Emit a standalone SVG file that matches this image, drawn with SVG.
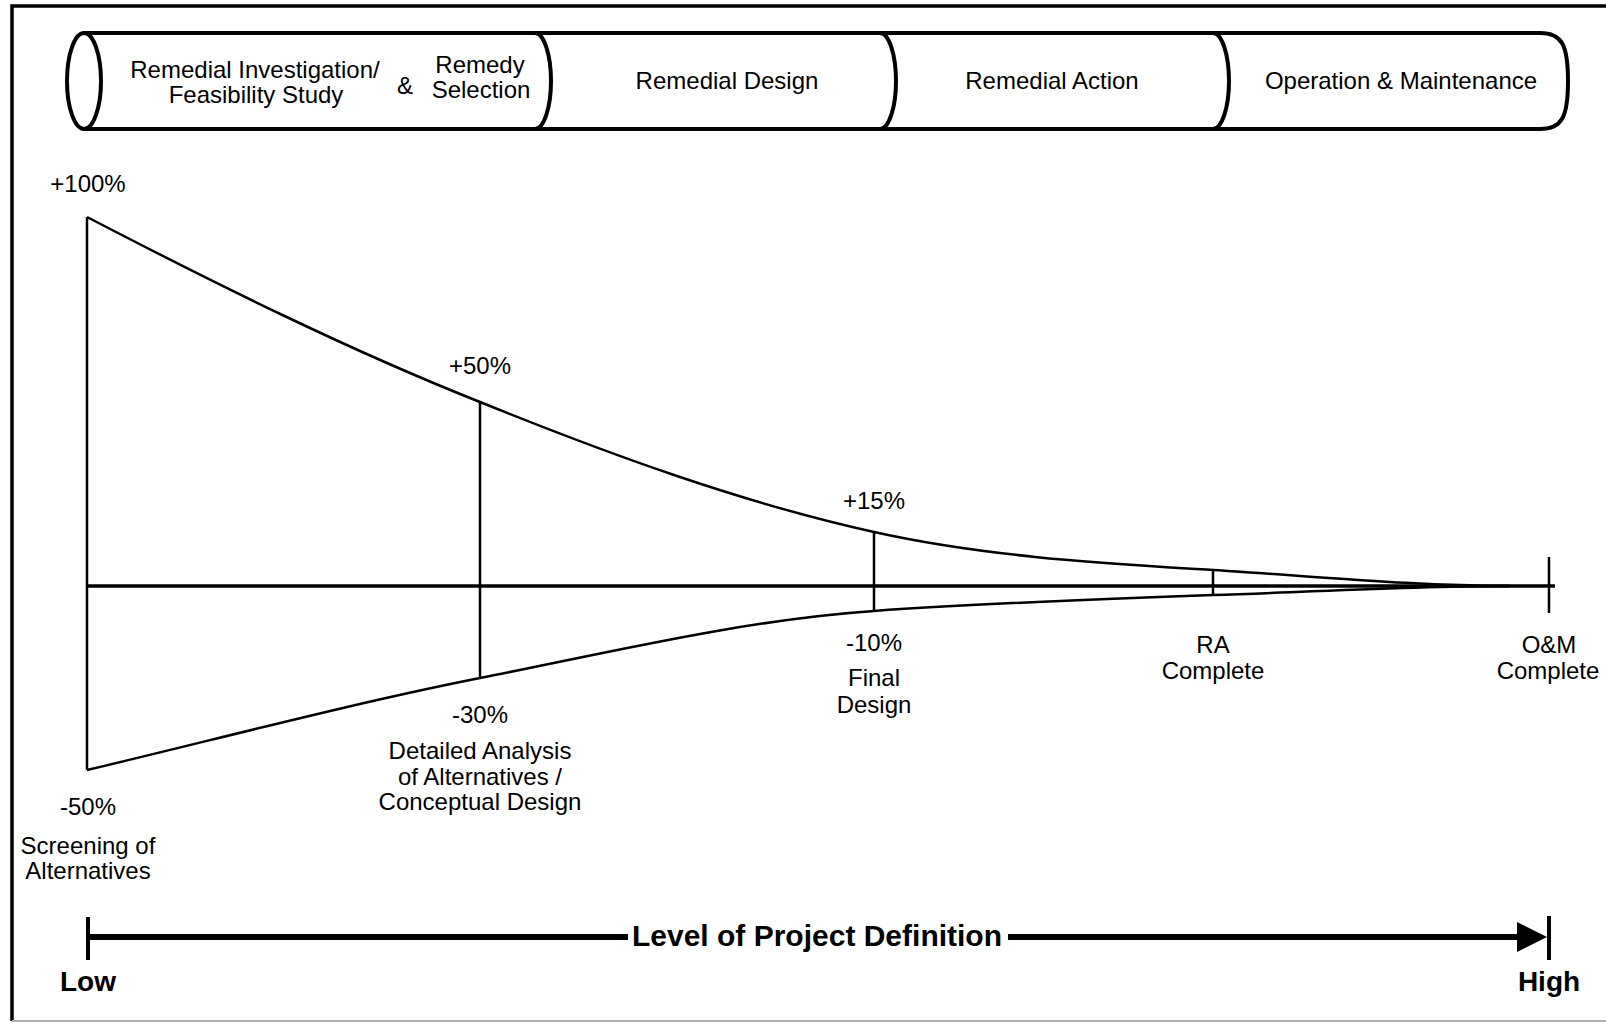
<svg xmlns="http://www.w3.org/2000/svg" width="1606" height="1023" viewBox="0 0 1606 1023">
<style>
  .t { font-family: "Liberation Sans", Arial, sans-serif; font-size: 24px; fill: #000; text-anchor: middle; }
  .b { font-family: "Liberation Sans", Arial, sans-serif; font-weight: bold; fill: #000; text-anchor: middle; }
  .cyl { fill: none; stroke: #000; stroke-width: 4; }
  .ln { fill: none; stroke: #000; stroke-width: 2.5; }
</style>
<rect width="1606" height="1023" fill="#fff"/>
<g id="border">
  <path d="M12,1021 L12,6 L1606,6" fill="none" stroke="#000" stroke-width="3.5"/>
  <path d="M12,1021 H1606" fill="none" stroke="#b0b0b0" stroke-width="2"/>
</g>
<g id="cylinder">
  <path class="cyl" d="M84,33 H1540 C1562,33 1568,45 1568,81 C1568,117 1562,129 1540,129 H84"/>
  <ellipse class="cyl" cx="84" cy="81" rx="17" ry="48"/>
  <g id="stage-ri-fs">
    <text class="t" x="255" y="78">Remedial Investigation/</text>
    <text class="t" x="256" y="103">Feasibility Study</text>
    <text class="t" x="405" y="94">&amp;</text>
    <text class="t" x="480" y="73">Remedy</text>
    <text class="t" x="481" y="98">Selection</text>
    <path class="cyl" d="M535,33 A16,48 0 0 1 535,129"/>
  </g>
  <g id="stage-rd">
    <text class="t" x="727" y="89">Remedial Design</text>
    <path class="cyl" d="M880,33 A16,48 0 0 1 880,129"/>
  </g>
  <g id="stage-ra">
    <text class="t" x="1052" y="89">Remedial Action</text>
    <path class="cyl" d="M1213,33 A16,48 0 0 1 1213,129"/>
  </g>
  <g id="stage-om">
    <text class="t" x="1401" y="89">Operation &amp; Maintenance</text>
  </g>
</g>
<g id="connectors">
  <path class="ln" d="M87,217 C218,285 349,350 480,402 C611,455 743,503 874,532 C987,557 1100,563 1213,570 C1313,576 1413,586 1510,586"/>
  <path class="ln" d="M87,770 C218,739 349,704 480,678 C611,652 743,620 874,611 C987,603 1100,599 1213,595 C1312,592 1412,586 1510,586"/>
  <line x1="87" y1="586" x2="1555" y2="586" stroke="#000" stroke-width="3.5"/>
  <line class="ln" x1="87" y1="217" x2="87" y2="770"/>
  <line class="ln" x1="480" y1="402" x2="480" y2="678"/>
  <line class="ln" x1="874" y1="532" x2="874" y2="611"/>
  <line class="ln" x1="1213" y1="570" x2="1213" y2="595"/>
  <line class="ln" x1="1549" y1="557" x2="1549" y2="613"/>
</g>
<g id="milestone-screening">
  <text class="t" x="88" y="192">+100%</text>
  <text class="t" x="88" y="815">-50%</text>
  <text class="t" x="88" y="854">Screening of</text>
  <text class="t" x="88" y="879">Alternatives</text>
</g>
<g id="milestone-detailed">
  <text class="t" x="480" y="374">+50%</text>
  <text class="t" x="480" y="723">-30%</text>
  <text class="t" x="480" y="759">Detailed Analysis</text>
  <text class="t" x="480" y="785">of Alternatives /</text>
  <text class="t" x="480" y="810">Conceptual Design</text>
</g>
<g id="milestone-final">
  <text class="t" x="874" y="509">+15%</text>
  <text class="t" x="874" y="651">-10%</text>
  <text class="t" x="874" y="686">Final</text>
  <text class="t" x="874" y="713">Design</text>
</g>
<g id="milestone-ra">
  <text class="t" x="1213" y="653">RA</text>
  <text class="t" x="1213" y="679">Complete</text>
</g>
<g id="milestone-om">
  <text class="t" x="1549" y="653">O&amp;M</text>
  <text class="t" x="1548" y="679">Complete</text>
</g>
<g id="definition-scale">
  <line x1="88" y1="917" x2="88" y2="960" stroke="#000" stroke-width="4"/>
  <line x1="1549" y1="916" x2="1549" y2="960" stroke="#000" stroke-width="4"/>
  <line x1="88" y1="937" x2="628" y2="937" stroke="#000" stroke-width="6"/>
  <line x1="1008" y1="937" x2="1520" y2="937" stroke="#000" stroke-width="6"/>
  <polygon points="1517,922 1547,937 1517,952" fill="#000"/>
  <text class="b" x="817" y="946" font-size="30">Level of Project Definition</text>
  <text class="b" x="88" y="991" font-size="28">Low</text>
  <text class="b" x="1549" y="991" font-size="28">High</text>
</g>
</svg>
